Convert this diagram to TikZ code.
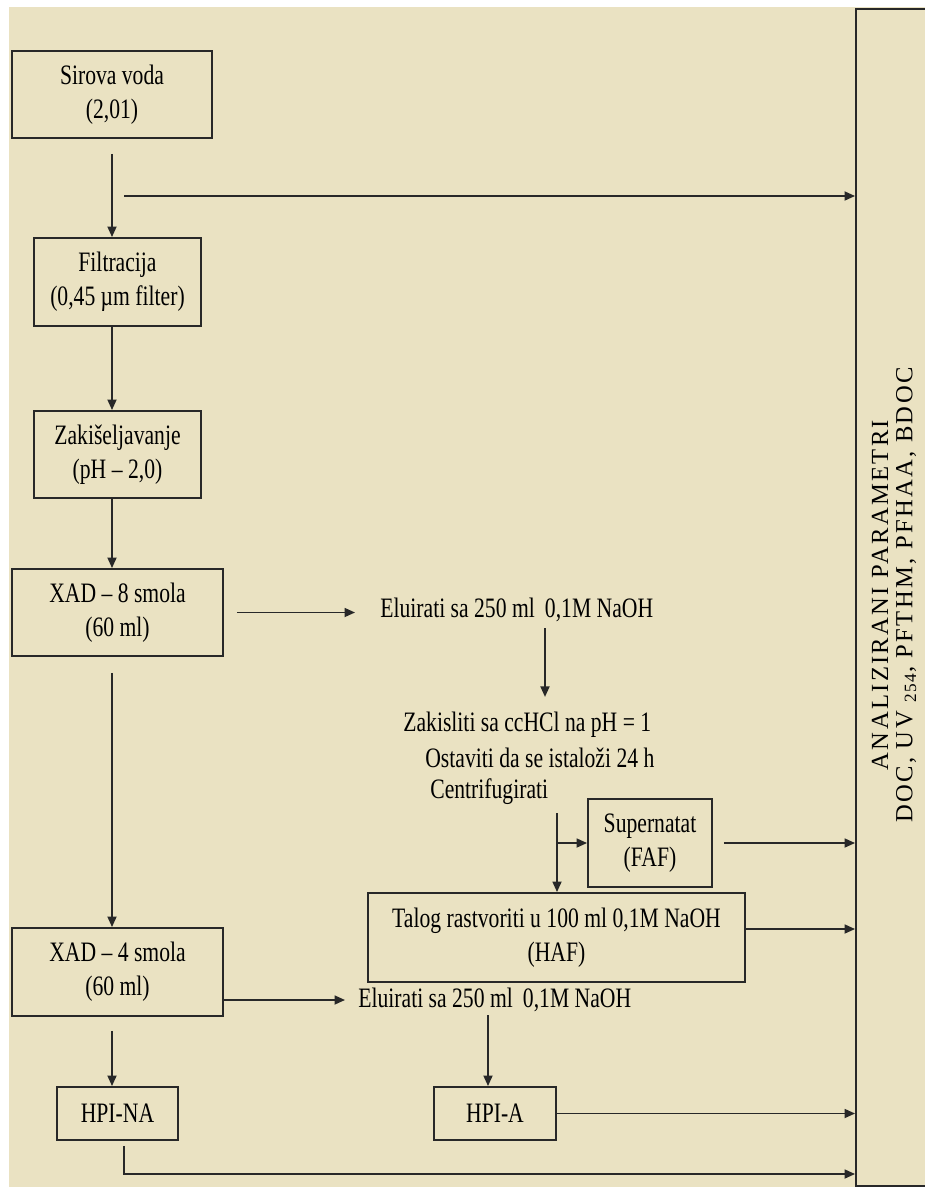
\documentclass[tikz,border=0pt]{standalone}
\usepackage{fontspec}
\setmainfont{Liberation Serif}[FakeStretch=0.77]
\newfontfamily\spacedfont{Liberation Serif}[LetterSpace=9.5]
\usetikzlibrary{arrows.meta}
\definecolor{paper}{RGB}{234,226,194}
\definecolor{ink}{RGB}{40,40,40}

\begin{document}
\begin{tikzpicture}[x=0.02cm,y=-0.02cm,
  box/.style={draw=ink,line width=1.1pt,align=center,inner sep=0pt,font=\fontsize{16}{19.5}\selectfont},
  txt/.style={anchor=west,inner sep=0pt,font=\fontsize{16}{19.5}\selectfont},
  arr/.style={draw=ink,line width=1pt,-{Triangle[length=0.21cm,width=0.18cm]}}]
  \useasboundingbox (0,0) rectangle (925,1187);
  \fill[paper] (9,7) rectangle (925,1187);

  \node[box,minimum width=4cm,minimum height=1.74cm] (raw) at (112,94.5) {Sirova voda\\(2,01)};
  \node[box,minimum width=3.34cm,minimum height=1.76cm] (filt) at (117.5,282) {Filtracija\\(0,45 µm filter)};
  \node[box,minimum width=3.34cm,minimum height=1.74cm] (zak) at (117.5,454.5) {Zakišeljavanje\\(pH – 2,0)};
  \node[box,minimum width=4.22cm,minimum height=1.74cm] (xad8) at (117.5,612.5) {XAD – 8 smola\\(60 ml)};
  \node[box,minimum width=4.22cm,minimum height=1.76cm] (xad4) at (117.5,972) {XAD – 4 smola\\(60 ml)};
  \node[box,minimum width=2.42cm,minimum height=1.06cm] (hpina) at (117.5,1113.5) {HPI-NA};
  \node[box,minimum width=2.44cm,minimum height=1.06cm] (hpia) at (495,1113.5) {HPI-A};
  \node[box,minimum width=2.48cm,minimum height=1.76cm] (super) at (650,843) {Supernatat\\(FAF)};
  \node[box,minimum width=7.54cm,minimum height=1.78cm] (talog) at (556.5,937.5) {Talog rastvoriti u 100 ml 0,1M NaOH\\(HAF)};
  \node[draw=ink,line width=1.1pt,inner sep=0pt,minimum width=1.8cm,minimum height=23.54cm] (params) at (901,597.5) {};
  \node[rotate=90,align=center,font=\spacedfont\fontsize{14}{13.8}\selectfont] (plist) at (894,595)
    {ANALIZIRANI PARAMETRI\\DOC, UV \textsubscript{254}, PFTHM, PFHAA, BDOC};

  \node[txt] (elu1) at (380,610) {Eluirati sa 250 ml\, 0,1M NaOH};
  \node[txt] (acid) at (403,725) {Zakisliti sa ccHCl na pH = 1};
  \node[txt] (settle) at (425,758) {Ostaviti da se istaloži 24 h};
  \node[txt] (spin) at (430,792) {Centrifugirati};
  \node[txt] (elu2) at (358,1000) {Eluirati sa 250 ml\, 0,1M NaOH};

  \coordinate (spine) at (112,0);
  \coordinate (tap) at (124,196);
  \coordinate (colA) at (545,0);
  \coordinate (colB) at (488,0);
  \coordinate (cfg) at (557,813);
  \coordinate (floor) at (0,1174);

  \draw[arr,shorten <=0.3cm] (raw.south) -- (raw.south |- filt.north);
  \draw[arr] (tap) -- (tap -| params.west);
  \draw[arr] (filt.south -| spine) -- (zak.north -| spine);
  \draw[arr] (zak.south -| spine) -- (xad8.north -| spine);
  \draw[arr,shorten <=0.32cm] (xad8.south -| spine) -- (xad4.north -| spine);
  \draw[arr,shorten <=0.26cm,shorten >=0.5cm] (xad8.east) -- (xad8.east -| elu1.west);
  \draw[arr,shorten <=0.12cm,shorten >=0.3cm] (elu1.south -| colA) -- (acid.north -| colA);
  \draw[arr] (cfg) -- (cfg |- talog.north);
  \draw[arr] (cfg |- super.west) -- (super.west);
  \draw[arr,shorten <=0.22cm] (super.east) -- (super.east -| params.west);
  \draw[arr] ([yshift=0.17cm]talog.east) -- ([yshift=0.17cm]talog.east -| params.west);
  \draw[arr,shorten >=0.26cm] ([yshift=-0.56cm]xad4.east) -- ([yshift=-0.56cm]xad4.east -| elu2.west);
  \draw[arr,shorten <=0.06cm] (elu2.south -| colB) -- (hpia.north -| colB);
  \draw[arr,shorten <=0.28cm] (xad4.south -| spine) -- (hpina.north -| spine);
  \draw[arr] (hpia.east) -- (hpia.east -| params.west);
  \draw[arr,shorten <=0.1cm] ([xshift=0.13cm]hpina.south) |- (floor -| params.west);
\end{tikzpicture}
\end{document}
